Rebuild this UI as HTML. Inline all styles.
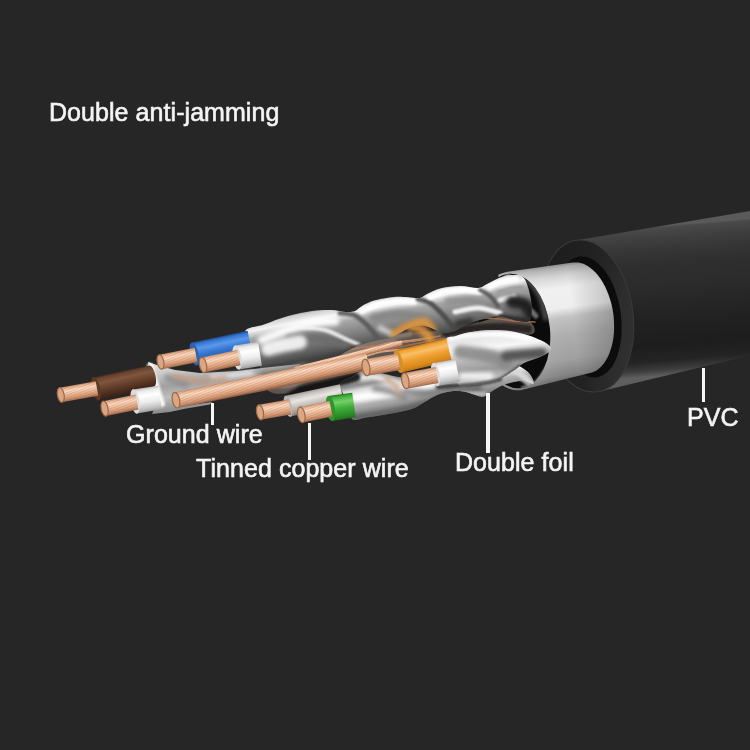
<!DOCTYPE html>
<html><head><meta charset="utf-8">
<style>
html,body{margin:0;padding:0;background:#262626;}
body{width:750px;height:750px;overflow:hidden;position:relative;font-family:"Liberation Sans",Arial,sans-serif;}
svg{position:absolute;left:0;top:0;display:block;filter:blur(0.45px);}
.t{position:absolute;color:#f4f4f4;font-size:25px;line-height:25px;white-space:nowrap;letter-spacing:0.06px;filter:blur(0.45px);-webkit-text-stroke:0.6px #f4f4f4;}
.l{position:absolute;background:#f6f6f6;width:3.4px;filter:blur(0.4px);}
</style></head><body>
<svg id="art" width="750" height="750" viewBox="0 0 750 750"><defs><pattern id="strand" width="2.4" height="2.4" patternUnits="userSpaceOnUse" patternTransform="rotate(-22)"><rect width="2.4" height="0.8" fill="#8a4f30" opacity="0.42"/></pattern><filter id="b1" filterUnits="userSpaceOnUse" x="0" y="150" width="750" height="350"><feGaussianBlur stdDeviation="1"/></filter><filter id="b2" filterUnits="userSpaceOnUse" x="0" y="150" width="750" height="350"><feGaussianBlur stdDeviation="2"/></filter><filter id="b3" filterUnits="userSpaceOnUse" x="0" y="150" width="750" height="350"><feGaussianBlur stdDeviation="3.5"/></filter><linearGradient id="g1" gradientUnits="userSpaceOnUse" x1="664.0" y1="225.5" x2="676.0" y2="374.5"><stop offset="0" stop-color="#5a5a5a"/><stop offset="0.012" stop-color="#4a4a4a"/><stop offset="0.06" stop-color="#424242"/><stop offset="0.15" stop-color="#373737"/><stop offset="0.25" stop-color="#2f2f2f"/><stop offset="0.38" stop-color="#2c2c2c"/><stop offset="0.5" stop-color="#272727"/><stop offset="0.65" stop-color="#212121"/><stop offset="0.8" stop-color="#1d1d1d"/><stop offset="0.9" stop-color="#242424"/><stop offset="0.96" stop-color="#3c3c3c"/><stop offset="1" stop-color="#5e5e5e"/></linearGradient><linearGradient id="g2" gradientUnits="userSpaceOnUse" x1="548.0" y1="300.0" x2="634.0" y2="322.0"><stop offset="0" stop-color="#1d1d1d"/><stop offset="0.5" stop-color="#222"/><stop offset="0.85" stop-color="#2d2d2d"/><stop offset="1" stop-color="#303030"/></linearGradient><linearGradient id="g3" gradientUnits="userSpaceOnUse" x1="545.0" y1="266.0" x2="562.0" y2="384.0"><stop offset="0" stop-color="#868686"/><stop offset="0.03" stop-color="#adadad"/><stop offset="0.1" stop-color="#d4d4d4"/><stop offset="0.2" stop-color="#f0f0f0"/><stop offset="0.37" stop-color="#eeeeee"/><stop offset="0.45" stop-color="#c2c2c2"/><stop offset="0.6" stop-color="#aeaeae"/><stop offset="0.8" stop-color="#a0a0a0"/><stop offset="0.93" stop-color="#828282"/><stop offset="1" stop-color="#5a5a5a"/></linearGradient><linearGradient id="g4" gradientUnits="userSpaceOnUse" x1="515.0" y1="330.0" x2="612.0" y2="318.0"><stop offset="0" stop-color="#fff" stop-opacity="0.2"/><stop offset="0.3" stop-color="#fff" stop-opacity="0.06"/><stop offset="0.5" stop-color="#fff" stop-opacity="0"/><stop offset="0.6" stop-color="#000" stop-opacity="0"/><stop offset="1" stop-color="#000" stop-opacity="0.18"/></linearGradient><clipPath id="opclip"><ellipse cx="514.5" cy="331" rx="35.5" ry="57.5" transform="rotate(-6 514.5 331)"/></clipPath><linearGradient id="g5" gradientUnits="userSpaceOnUse" x1="380.0" y1="296.0" x2="389.0" y2="344.0"><stop offset="0" stop-color="#8e8e8e"/><stop offset="0.08" stop-color="#d0d0d0"/><stop offset="0.22" stop-color="#f4f4f4"/><stop offset="0.38" stop-color="#a6a6a6"/><stop offset="0.6" stop-color="#888"/><stop offset="0.85" stop-color="#606060"/><stop offset="1" stop-color="#444"/></linearGradient><clipPath id="topclip"><path d="M245.0,331.5 C247.0,326.9 256.8,327.1 264.0,324.5 C271.2,321.9 280.0,318.2 288.0,316.0 C296.0,313.8 304.8,312.0 312.0,311.0 C319.2,310.0 325.3,309.8 331.0,310.0 C336.7,310.2 342.0,311.8 346.0,312.0 C350.0,312.2 352.3,312.0 355.0,311.0 C357.7,310.0 358.8,307.8 362.0,306.0 C365.2,304.2 368.7,302.0 374.0,300.5 C379.3,299.0 388.3,297.5 394.0,297.0 C399.7,296.5 403.7,297.1 408.0,297.3 C412.3,297.5 416.8,298.6 420.0,298.0 C423.2,297.4 423.7,295.6 427.0,294.0 C430.3,292.4 434.5,289.8 440.0,288.5 C445.5,287.2 453.7,286.1 460.0,286.0 C466.3,285.9 473.5,288.3 478.0,288.0 C482.5,287.7 483.3,285.8 487.0,284.0 C490.7,282.2 495.8,279.0 500.0,277.5 C504.2,276.0 508.0,274.9 512.0,275.0 C516.0,275.1 520.8,273.8 524.0,278.0 C527.2,282.2 530.0,293.0 531.0,300.0 C532.0,307.0 532.2,316.5 530.0,320.0 C527.8,323.5 523.0,321.6 518.0,321.0 C513.0,320.4 506.3,316.7 500.0,316.5 C493.7,316.3 485.7,318.6 480.0,320.0 C474.3,321.4 470.2,323.2 466.0,325.0 C461.8,326.8 458.8,329.7 455.0,331.0 C451.2,332.3 448.0,333.8 443.0,333.0 C438.0,332.2 430.5,326.8 425.0,326.0 C419.5,325.2 414.2,326.8 410.0,328.0 C405.8,329.2 403.3,331.3 400.0,333.0 C396.7,334.7 394.2,336.7 390.0,338.0 C385.8,339.3 380.0,339.8 375.0,341.0 C370.0,342.2 365.0,343.2 360.0,345.0 C355.0,346.8 349.5,349.8 345.0,352.0 C340.5,354.2 338.0,356.3 333.0,358.0 C328.0,359.7 321.2,360.7 315.0,362.0 C308.8,363.3 302.7,364.9 296.0,366.0 C289.3,367.1 280.7,368.0 275.0,368.5 C269.3,369.0 265.8,371.8 262.0,369.0 C258.2,366.2 254.8,358.2 252.0,352.0 C249.2,345.8 243.0,336.1 245.0,331.5Z"/></clipPath><linearGradient id="g6" gradientUnits="userSpaceOnUse" x1="190.0" y1="362.0" x2="196.0" y2="408.0"><stop offset="0" stop-color="#dedede"/><stop offset="0.2" stop-color="#c6c6c6"/><stop offset="0.45" stop-color="#a2a2a2"/><stop offset="0.7" stop-color="#bebebe"/><stop offset="1" stop-color="#8c8c8c"/></linearGradient><linearGradient id="g7" gradientUnits="userSpaceOnUse" x1="295.2" y1="366.4" x2="296.8" y2="372.6"><stop offset="0" stop-color="#c08c6a"/><stop offset="0.1" stop-color="#e6b18e"/><stop offset="0.3" stop-color="#fbdcc6"/><stop offset="0.5" stop-color="#f0c0a0"/><stop offset="0.75" stop-color="#daa07c"/><stop offset="0.92" stop-color="#b8805e"/><stop offset="1" stop-color="#966246"/></linearGradient><linearGradient id="g8" gradientUnits="userSpaceOnUse" x1="174.4" y1="392.5" x2="177.6" y2="407.9"><stop offset="0" stop-color="#c08c6a"/><stop offset="0.1" stop-color="#e6b18e"/><stop offset="0.3" stop-color="#fbdcc6"/><stop offset="0.5" stop-color="#f0c0a0"/><stop offset="0.75" stop-color="#daa07c"/><stop offset="0.92" stop-color="#b8805e"/><stop offset="1" stop-color="#966246"/></linearGradient><linearGradient id="g9" gradientUnits="userSpaceOnUse" x1="191.9" y1="342.5" x2="196.7" y2="365.5"><stop offset="0" stop-color="#1f4a90"/><stop offset="0.1" stop-color="#3576d2"/><stop offset="0.3" stop-color="#5c98ea"/><stop offset="0.55" stop-color="#3576d2"/><stop offset="0.85" stop-color="#2559ad"/><stop offset="1" stop-color="#1f4a90"/></linearGradient><linearGradient id="g10" gradientUnits="userSpaceOnUse" x1="159.1" y1="354.8" x2="161.9" y2="369.2"><stop offset="0" stop-color="#c08c6a"/><stop offset="0.1" stop-color="#e6b18e"/><stop offset="0.3" stop-color="#fbdcc6"/><stop offset="0.5" stop-color="#f0c0a0"/><stop offset="0.75" stop-color="#daa07c"/><stop offset="0.92" stop-color="#b8805e"/><stop offset="1" stop-color="#966246"/></linearGradient><linearGradient id="g11" gradientUnits="userSpaceOnUse" x1="235.1" y1="345.5" x2="238.9" y2="369.5"><stop offset="0" stop-color="#b9b9b9"/><stop offset="0.12" stop-color="#e9e9e9"/><stop offset="0.32" stop-color="#ffffff"/><stop offset="0.6" stop-color="#ececec"/><stop offset="0.85" stop-color="#c2c2c2"/><stop offset="1" stop-color="#9a9a9a"/></linearGradient><linearGradient id="g12" gradientUnits="userSpaceOnUse" x1="201.4" y1="357.4" x2="204.6" y2="372.6"><stop offset="0" stop-color="#c08c6a"/><stop offset="0.1" stop-color="#e6b18e"/><stop offset="0.3" stop-color="#fbdcc6"/><stop offset="0.5" stop-color="#f0c0a0"/><stop offset="0.75" stop-color="#daa07c"/><stop offset="0.92" stop-color="#b8805e"/><stop offset="1" stop-color="#966246"/></linearGradient><linearGradient id="g13" gradientUnits="userSpaceOnUse" x1="93.4" y1="376.9" x2="98.6" y2="400.3"><stop offset="0" stop-color="#382115"/><stop offset="0.1" stop-color="#66412d"/><stop offset="0.3" stop-color="#80563e"/><stop offset="0.55" stop-color="#66412d"/><stop offset="0.85" stop-color="#47291b"/><stop offset="1" stop-color="#382115"/></linearGradient><linearGradient id="g14" gradientUnits="userSpaceOnUse" x1="59.5" y1="387.7" x2="62.1" y2="402.3"><stop offset="0" stop-color="#c08c6a"/><stop offset="0.1" stop-color="#e6b18e"/><stop offset="0.3" stop-color="#fbdcc6"/><stop offset="0.5" stop-color="#f0c0a0"/><stop offset="0.75" stop-color="#daa07c"/><stop offset="0.92" stop-color="#b8805e"/><stop offset="1" stop-color="#966246"/></linearGradient><linearGradient id="g15" gradientUnits="userSpaceOnUse" x1="133.1" y1="389.4" x2="136.9" y2="413.6"><stop offset="0" stop-color="#b9b9b9"/><stop offset="0.12" stop-color="#e9e9e9"/><stop offset="0.32" stop-color="#ffffff"/><stop offset="0.6" stop-color="#ececec"/><stop offset="0.85" stop-color="#c2c2c2"/><stop offset="1" stop-color="#9a9a9a"/></linearGradient><linearGradient id="g16" gradientUnits="userSpaceOnUse" x1="103.1" y1="401.2" x2="106.1" y2="416.0"><stop offset="0" stop-color="#c08c6a"/><stop offset="0.1" stop-color="#e6b18e"/><stop offset="0.3" stop-color="#fbdcc6"/><stop offset="0.5" stop-color="#f0c0a0"/><stop offset="0.75" stop-color="#daa07c"/><stop offset="0.92" stop-color="#b8805e"/><stop offset="1" stop-color="#966246"/></linearGradient><linearGradient id="g17" gradientUnits="userSpaceOnUse" x1="430.0" y1="372.0" x2="437.0" y2="410.0"><stop offset="0" stop-color="#8a8a8a"/><stop offset="0.12" stop-color="#d9d9d9"/><stop offset="0.3" stop-color="#f4f4f4"/><stop offset="0.5" stop-color="#b4b4b4"/><stop offset="0.78" stop-color="#828282"/><stop offset="1" stop-color="#555"/></linearGradient><clipPath id="lowclip"><path d="M340.0,384.0 C341.0,380.2 348.2,379.2 352.0,377.0 C355.8,374.8 358.3,371.7 363.0,371.0 C367.7,370.3 373.8,372.0 380.0,373.0 C386.2,374.0 391.7,376.2 400.0,377.0 C408.3,377.8 420.0,378.5 430.0,378.0 C440.0,377.5 450.0,375.7 460.0,374.0 C470.0,372.3 481.3,369.7 490.0,368.0 C498.7,366.3 505.7,363.3 512.0,364.0 C518.3,364.7 524.3,368.7 528.0,372.0 C531.7,375.3 534.7,382.5 534.0,384.0 C533.3,385.5 527.3,381.3 524.0,381.0 C520.7,380.7 517.8,381.2 514.0,382.0 C510.2,382.8 504.8,384.3 501.0,386.0 C497.2,387.7 494.0,390.2 491.0,392.0 C488.0,393.8 485.8,396.6 483.0,397.0 C480.2,397.4 477.3,395.4 474.0,394.5 C470.7,393.6 467.0,392.0 463.0,391.5 C459.0,391.0 454.3,390.9 450.0,391.5 C445.7,392.1 441.5,393.1 437.0,395.0 C432.5,396.9 427.5,400.6 423.0,403.0 C418.5,405.4 416.7,407.5 410.0,409.5 C403.3,411.5 390.3,413.7 383.0,415.0 C375.7,416.3 371.2,416.8 366.0,417.5 C360.8,418.2 355.3,421.9 352.0,419.0 C348.7,416.1 348.0,405.8 346.0,400.0 C344.0,394.2 339.0,387.8 340.0,384.0Z"/></clipPath><linearGradient id="g18" gradientUnits="userSpaceOnUse" x1="490.0" y1="330.0" x2="497.0" y2="384.0"><stop offset="0" stop-color="#a0a0a0"/><stop offset="0.1" stop-color="#e4e4e4"/><stop offset="0.32" stop-color="#f6f6f6"/><stop offset="0.5" stop-color="#bdbdbd"/><stop offset="0.7" stop-color="#9a9a9a"/><stop offset="0.88" stop-color="#c0c0c0"/><stop offset="1" stop-color="#777"/></linearGradient><clipPath id="midclip"><path d="M445.0,340.5 C445.7,336.2 452.2,337.3 456.0,336.0 C459.8,334.7 462.5,333.5 468.0,332.5 C473.5,331.5 482.0,330.2 489.0,330.0 C496.0,329.8 503.2,330.0 510.0,331.0 C516.8,332.0 524.0,334.0 530.0,336.0 C536.0,338.0 542.5,340.7 546.0,343.0 C549.5,345.3 552.0,347.7 551.0,350.0 C550.0,352.3 544.5,354.8 540.0,357.0 C535.5,359.2 528.0,361.0 524.0,363.0 C520.0,365.0 520.0,366.3 516.0,369.0 C512.0,371.7 505.0,376.7 500.0,379.0 C495.0,381.3 490.7,382.0 486.0,383.0 C481.3,384.0 476.5,384.7 472.0,385.0 C467.5,385.3 462.3,388.8 459.0,385.0 C455.7,381.2 454.3,369.4 452.0,362.0 C449.7,354.6 444.3,344.8 445.0,340.5Z"/></clipPath><linearGradient id="g19" gradientUnits="userSpaceOnUse" x1="395.8" y1="350.2" x2="401.2" y2="372.8"><stop offset="0" stop-color="#b87414"/><stop offset="0.1" stop-color="#f0a030"/><stop offset="0.3" stop-color="#f8c06a"/><stop offset="0.55" stop-color="#f0a030"/><stop offset="0.85" stop-color="#d98a1c"/><stop offset="1" stop-color="#b87414"/></linearGradient><linearGradient id="g20" gradientUnits="userSpaceOnUse" x1="364.6" y1="359.2" x2="367.4" y2="375.8"><stop offset="0" stop-color="#c08c6a"/><stop offset="0.1" stop-color="#e6b18e"/><stop offset="0.3" stop-color="#fbdcc6"/><stop offset="0.5" stop-color="#f0c0a0"/><stop offset="0.75" stop-color="#daa07c"/><stop offset="0.92" stop-color="#b8805e"/><stop offset="1" stop-color="#966246"/></linearGradient><linearGradient id="g21" gradientUnits="userSpaceOnUse" x1="433.4" y1="362.9" x2="437.6" y2="386.1"><stop offset="0" stop-color="#b9b9b9"/><stop offset="0.12" stop-color="#e9e9e9"/><stop offset="0.32" stop-color="#ffffff"/><stop offset="0.6" stop-color="#ececec"/><stop offset="0.85" stop-color="#c2c2c2"/><stop offset="1" stop-color="#9a9a9a"/></linearGradient><linearGradient id="g22" gradientUnits="userSpaceOnUse" x1="403.9" y1="372.9" x2="406.7" y2="388.7"><stop offset="0" stop-color="#c08c6a"/><stop offset="0.1" stop-color="#e6b18e"/><stop offset="0.3" stop-color="#fbdcc6"/><stop offset="0.5" stop-color="#f0c0a0"/><stop offset="0.75" stop-color="#daa07c"/><stop offset="0.92" stop-color="#b8805e"/><stop offset="1" stop-color="#966246"/></linearGradient><linearGradient id="g23" gradientUnits="userSpaceOnUse" x1="285.6" y1="395.8" x2="290.4" y2="416.8"><stop offset="0" stop-color="#9c9894"/><stop offset="0.15" stop-color="#c9c5c1"/><stop offset="0.35" stop-color="#e8e6e3"/><stop offset="0.6" stop-color="#c4c0bc"/><stop offset="0.85" stop-color="#9e9a96"/><stop offset="1" stop-color="#7c7875"/></linearGradient><linearGradient id="g24" gradientUnits="userSpaceOnUse" x1="258.7" y1="404.8" x2="261.3" y2="419.8"><stop offset="0" stop-color="#c08c6a"/><stop offset="0.1" stop-color="#e6b18e"/><stop offset="0.3" stop-color="#fbdcc6"/><stop offset="0.5" stop-color="#f0c0a0"/><stop offset="0.75" stop-color="#daa07c"/><stop offset="0.92" stop-color="#b8805e"/><stop offset="1" stop-color="#966246"/></linearGradient><linearGradient id="g25" gradientUnits="userSpaceOnUse" x1="328.6" y1="396.0" x2="332.4" y2="421.0"><stop offset="0" stop-color="#1f6e1e"/><stop offset="0.1" stop-color="#3fae3a"/><stop offset="0.3" stop-color="#74d06c"/><stop offset="0.55" stop-color="#3fae3a"/><stop offset="0.85" stop-color="#2a8a28"/><stop offset="1" stop-color="#1f6e1e"/></linearGradient><linearGradient id="g26" gradientUnits="userSpaceOnUse" x1="299.7" y1="407.0" x2="302.9" y2="422.6"><stop offset="0" stop-color="#c08c6a"/><stop offset="0.1" stop-color="#e6b18e"/><stop offset="0.3" stop-color="#fbdcc6"/><stop offset="0.5" stop-color="#f0c0a0"/><stop offset="0.75" stop-color="#daa07c"/><stop offset="0.92" stop-color="#b8805e"/><stop offset="1" stop-color="#966246"/></linearGradient></defs><rect width="750" height="750" fill="#262626"/><polygon points="540.2,302.6 540.6,296.1 541.2,289.8 542.2,283.7 543.6,277.8 545.3,272.2 547.3,267.0 549.6,262.1 552.2,257.6 555.0,253.6 558.1,250.0 561.4,247.0 564.9,244.5 568.6,242.5 572.4,241.1 576.4,240.2 750.0,211.0 750.0,355.5 601.6,390.9 597.6,391.8 593.6,392.0 589.6,391.7 585.5,390.8 581.4,389.4 577.4,387.4 573.4,384.8 569.6,381.7 565.9,378.1 562.3,374.1 558.9,369.6 555.8,364.7 552.9,359.4 550.2,353.8 547.8,347.9 545.8,341.8 544.0,335.5 542.5,329.0 541.4,322.4 540.7,315.8 540.3,309.1" fill="url(#g1)" />
<ellipse cx="587.0" cy="316.0" rx="46.0" ry="76.5" transform="rotate(-8.0 587.0 316.0)" fill="url(#g2)" stroke="#3a3a3a" stroke-width="1"/>
<ellipse cx="588.0" cy="317.0" rx="33.0" ry="61.0" transform="rotate(-8.0 588.0 317.0)" fill="#0c0c0c" />
<polygon points="498.0,381.7 498.5,274.8 501.5,273.4 504.6,272.4 507.8,271.8 572.7,262.5 575.6,262.4 578.5,262.6 581.4,263.2 584.4,264.3 587.2,265.8 590.1,267.7 592.9,269.9 595.5,272.6 598.1,275.5 600.5,278.8 602.8,282.4 604.9,286.3 606.8,290.4 608.5,294.7 610.0,299.2 611.3,303.8 612.4,308.6 613.2,313.4 613.7,318.3 614.0,323.1 614.1,327.9 613.9,332.7 613.4,337.3 612.7,341.8 611.7,346.0 610.5,350.1 609.1,354.0 607.5,357.5 605.6,360.8 603.6,363.7 601.4,366.3 599.0,368.5 596.5,370.4 593.8,371.8 591.1,372.8 523.4,389.6 520.2,390.2 517.0,390.3 513.7,389.9 510.5,389.2 507.3,387.9 504.1,386.3 501.0,384.2" fill="url(#g3)" />
<polygon points="498.0,381.7 498.5,274.8 501.5,273.4 504.6,272.4 507.8,271.8 572.7,262.5 575.6,262.4 578.5,262.6 581.4,263.2 584.4,264.3 587.2,265.8 590.1,267.7 592.9,269.9 595.5,272.6 598.1,275.5 600.5,278.8 602.8,282.4 604.9,286.3 606.8,290.4 608.5,294.7 610.0,299.2 611.3,303.8 612.4,308.6 613.2,313.4 613.7,318.3 614.0,323.1 614.1,327.9 613.9,332.7 613.4,337.3 612.7,341.8 611.7,346.0 610.5,350.1 609.1,354.0 607.5,357.5 605.6,360.8 603.6,363.7 601.4,366.3 599.0,368.5 596.5,370.4 593.8,371.8 591.1,372.8 523.4,389.6 520.2,390.2 517.0,390.3 513.7,389.9 510.5,389.2 507.3,387.9 504.1,386.3 501.0,384.2" fill="url(#g4)" />
<ellipse cx="514.5" cy="331.0" rx="35.5" ry="57.5" transform="rotate(-6.0 514.5 331.0)" fill="#0b0b0b" />
<g clip-path="url(#opclip)">
<path d="M528.0,279.0 C530.0,281.8 537.0,289.5 540.0,296.0 C543.0,302.5 545.0,314.3 546.0,318.0" fill="none" stroke="#6a6a6a" stroke-width="5" stroke-linecap="round" filter="url(#b2)" opacity="0.8"/>
<path d="M508.0,279.0 C509.3,280.2 513.7,283.0 516.0,286.0 C518.3,289.0 521.0,295.2 522.0,297.0" fill="none" stroke="#e8e8e8" stroke-width="9" stroke-linecap="round" filter="url(#b1)" opacity="0.95"/>
<path d="M512.0,300.0 C514.3,301.0 522.0,303.3 526.0,306.0 C530.0,308.7 534.3,314.3 536.0,316.0" fill="none" stroke="#8a8a8a" stroke-width="5" stroke-linecap="round" filter="url(#b1)" opacity="0.8"/>
<path d="M508.0,368.0 C509.7,369.2 514.3,372.3 518.0,375.0 C521.7,377.7 528.0,382.5 530.0,384.0" fill="none" stroke="#c4c4c4" stroke-width="6" stroke-linecap="round" filter="url(#b1)" opacity="0.9"/>
<path d="M522.0,388.0 C524.3,387.0 532.0,385.3 536.0,382.0 C540.0,378.7 544.3,370.3 546.0,368.0" fill="none" stroke="#9a9a9a" stroke-width="2.5" stroke-linecap="round" filter="url(#b1)" opacity="0.9"/>
</g>
<path d="M300.0,366.0 C311.3,363.3 320.0,359.5 330.0,356.0 C340.0,352.5 348.3,348.7 360.0,345.0 C371.7,341.3 385.8,336.5 400.0,334.0 C414.2,331.5 431.7,332.0 445.0,330.0 C458.3,328.0 470.0,324.3 480.0,322.0 C490.0,319.7 496.7,316.0 505.0,316.0 C513.3,316.0 525.5,319.0 530.0,322.0 C534.5,325.0 537.0,332.0 532.0,334.0 C527.0,336.0 513.7,332.2 500.0,334.0 C486.3,335.8 466.7,340.3 450.0,345.0 C433.3,349.7 413.3,357.5 400.0,362.0 C386.7,366.5 380.0,368.3 370.0,372.0 C360.0,375.7 351.7,380.7 340.0,384.0 C328.3,387.3 311.7,390.7 300.0,392.0 C288.3,393.3 276.3,395.3 270.0,392.0 C263.7,388.7 257.0,376.3 262.0,372.0 C267.0,367.7 288.7,368.7 300.0,366.0Z" fill="#5e544e" />
<path d="M262.0,380.0 C265.8,380.3 278.7,382.3 285.0,382.0 C291.3,381.7 297.5,378.7 300.0,378.0" fill="none" stroke="#bdbdbd" stroke-width="9" stroke-linecap="round" filter="url(#b2)" opacity="0.9"/>
<path d="M330.0,366.0 C335.0,363.7 349.2,356.0 360.0,352.0 C370.8,348.0 389.2,343.7 395.0,342.0" fill="none" stroke="#9a9088" stroke-width="6" stroke-linecap="round" filter="url(#b2)" opacity="0.9"/>
<path d="M300.0,372.0 C306.7,370.0 326.7,364.3 340.0,360.0 C353.3,355.7 365.0,349.7 380.0,346.0 C395.0,342.3 421.7,339.3 430.0,338.0" fill="none" stroke="#c98f6a" stroke-width="2.2" stroke-linecap="round" opacity="0.9"/>
<path d="M320.0,372.0 C326.7,369.3 346.7,360.2 360.0,356.0 C373.3,351.8 385.8,350.0 400.0,347.0 C414.2,344.0 437.5,339.5 445.0,338.0" fill="none" stroke="#a86f4e" stroke-width="1.6" stroke-linecap="round" opacity="0.9"/>
<path d="M345.0,352.0 C350.8,350.0 369.2,343.0 380.0,340.0 C390.8,337.0 405.0,335.0 410.0,334.0" fill="none" stroke="#8a7a70" stroke-width="5" stroke-linecap="round" filter="url(#b1)" opacity="0.9"/>
<path d="M310.0,368.0 C315.8,366.2 332.5,361.0 345.0,357.0 C357.5,353.0 372.5,346.8 385.0,344.0 C397.5,341.2 414.2,340.7 420.0,340.0" fill="none" stroke="#d9a07c" stroke-width="1.6" stroke-linecap="round" opacity="0.9"/>
<path d="M335.0,352.0 C340.0,351.2 354.2,348.5 365.0,347.0 C375.8,345.5 387.5,344.8 400.0,343.0 C412.5,341.2 433.3,337.2 440.0,336.0" fill="none" stroke="#b87c58" stroke-width="1.4" stroke-linecap="round" opacity="0.9"/>
<path d="M350.0,362.0 C355.0,360.3 370.0,354.2 380.0,352.0 C390.0,349.8 405.0,349.5 410.0,349.0" fill="none" stroke="#e2b090" stroke-width="2" stroke-linecap="round" opacity="0.85"/>
<path d="M410.0,326.0 C412.0,326.7 418.7,328.0 422.0,330.0 C425.3,332.0 428.7,336.7 430.0,338.0" fill="none" stroke="#e89a3c" stroke-width="9" stroke-linecap="round" filter="url(#b2)" opacity="0.85"/>
<path d="M455.0,322.0 C460.0,321.3 475.0,318.2 485.0,318.0 C495.0,317.8 506.7,320.3 515.0,321.0 C523.3,321.7 531.7,321.8 535.0,322.0" fill="none" stroke="#a8704a" stroke-width="1.6" stroke-linecap="round" opacity="0.9"/>
<path d="M446.0,333.0 C450.0,332.3 461.0,330.0 470.0,329.0 C479.0,328.0 490.3,327.0 500.0,327.0 C509.7,327.0 523.3,328.7 528.0,329.0" fill="none" stroke="#262220" stroke-width="8" stroke-linecap="round" filter="url(#b1)" opacity="0.92"/>
<path d="M245.0,331.5 C247.0,326.9 256.8,327.1 264.0,324.5 C271.2,321.9 280.0,318.2 288.0,316.0 C296.0,313.8 304.8,312.0 312.0,311.0 C319.2,310.0 325.3,309.8 331.0,310.0 C336.7,310.2 342.0,311.8 346.0,312.0 C350.0,312.2 352.3,312.0 355.0,311.0 C357.7,310.0 358.8,307.8 362.0,306.0 C365.2,304.2 368.7,302.0 374.0,300.5 C379.3,299.0 388.3,297.5 394.0,297.0 C399.7,296.5 403.7,297.1 408.0,297.3 C412.3,297.5 416.8,298.6 420.0,298.0 C423.2,297.4 423.7,295.6 427.0,294.0 C430.3,292.4 434.5,289.8 440.0,288.5 C445.5,287.2 453.7,286.1 460.0,286.0 C466.3,285.9 473.5,288.3 478.0,288.0 C482.5,287.7 483.3,285.8 487.0,284.0 C490.7,282.2 495.8,279.0 500.0,277.5 C504.2,276.0 508.0,274.9 512.0,275.0 C516.0,275.1 520.8,273.8 524.0,278.0 C527.2,282.2 530.0,293.0 531.0,300.0 C532.0,307.0 532.2,316.5 530.0,320.0 C527.8,323.5 523.0,321.6 518.0,321.0 C513.0,320.4 506.3,316.7 500.0,316.5 C493.7,316.3 485.7,318.6 480.0,320.0 C474.3,321.4 470.2,323.2 466.0,325.0 C461.8,326.8 458.8,329.7 455.0,331.0 C451.2,332.3 448.0,333.8 443.0,333.0 C438.0,332.2 430.5,326.8 425.0,326.0 C419.5,325.2 414.2,326.8 410.0,328.0 C405.8,329.2 403.3,331.3 400.0,333.0 C396.7,334.7 394.2,336.7 390.0,338.0 C385.8,339.3 380.0,339.8 375.0,341.0 C370.0,342.2 365.0,343.2 360.0,345.0 C355.0,346.8 349.5,349.8 345.0,352.0 C340.5,354.2 338.0,356.3 333.0,358.0 C328.0,359.7 321.2,360.7 315.0,362.0 C308.8,363.3 302.7,364.9 296.0,366.0 C289.3,367.1 280.7,368.0 275.0,368.5 C269.3,369.0 265.8,371.8 262.0,369.0 C258.2,366.2 254.8,358.2 252.0,352.0 C249.2,345.8 243.0,336.1 245.0,331.5Z" fill="url(#g5)" />
<g clip-path="url(#topclip)">
<path d="M262.0,340.0 C265.8,338.5 276.7,333.8 285.0,331.0 C293.3,328.2 303.7,324.7 312.0,323.0 C320.3,321.3 331.2,321.3 335.0,321.0" fill="none" stroke="#ffffff" stroke-width="9" stroke-linecap="round" filter="url(#b2)" opacity="0.92"/>
<path d="M290.0,340.0 C294.7,339.7 308.8,337.5 318.0,338.0 C327.2,338.5 340.5,342.2 345.0,343.0" fill="none" stroke="#6c6c6c" stroke-width="10" stroke-linecap="round" filter="url(#b2)" opacity="0.9"/>
<path d="M300.0,327.0 C304.2,327.5 317.0,327.8 325.0,330.0 C333.0,332.2 341.8,337.3 348.0,340.0 C354.2,342.7 359.7,345.0 362.0,346.0" fill="none" stroke="#f4f4f4" stroke-width="4" stroke-linecap="round" filter="url(#b1)" opacity="0.9"/>
<path d="M268.0,349.0 C270.7,348.3 278.7,346.2 284.0,345.0 C289.3,343.8 297.3,342.5 300.0,342.0" fill="none" stroke="#fafafa" stroke-width="14" stroke-linecap="round" filter="url(#b2)" opacity="0.9"/>
<path d="M262.0,369.0 C268.3,368.2 287.8,366.5 300.0,364.5 C312.2,362.5 324.7,360.2 335.0,357.0 C345.3,353.8 357.5,347.0 362.0,345.0" fill="none" stroke="#3e3e3e" stroke-width="4.5" stroke-linecap="round" filter="url(#b1)" opacity="0.9"/>
<path d="M340.0,313.0 C342.3,313.3 349.7,313.2 354.0,315.0 C358.3,316.8 362.0,320.2 366.0,324.0 C370.0,327.8 376.0,335.7 378.0,338.0" fill="none" stroke="#585858" stroke-width="5" stroke-linecap="round" filter="url(#b1)" opacity="0.9"/>
<path d="M362.0,311.0 C364.7,309.8 372.0,305.7 378.0,304.0 C384.0,302.3 392.0,301.3 398.0,301.0 C404.0,300.7 411.3,301.8 414.0,302.0" fill="none" stroke="#ffffff" stroke-width="6" stroke-linecap="round" filter="url(#b1)" opacity="0.95"/>
<path d="M374.0,318.0 C378.0,317.3 390.0,314.0 398.0,314.0 C406.0,314.0 418.0,317.3 422.0,318.0" fill="none" stroke="#858585" stroke-width="9" stroke-linecap="round" filter="url(#b2)" opacity="0.9"/>
<path d="M380.0,328.0 C382.0,329.0 390.0,333.0 392.0,334.0" fill="none" stroke="#f0f0f0" stroke-width="5" stroke-linecap="round" filter="url(#b2)" opacity="0.8"/>
<path d="M395.0,334.0 C397.5,332.7 405.2,328.0 410.0,326.0 C414.8,324.0 420.3,321.3 424.0,322.0 C427.7,322.7 430.7,328.7 432.0,330.0" fill="none" stroke="#e0953a" stroke-width="9" stroke-linecap="round" filter="url(#b2)" opacity="0.9"/>
<path d="M418.0,299.0 C420.0,299.7 425.7,300.2 430.0,303.0 C434.3,305.8 439.7,311.2 444.0,316.0 C448.3,320.8 454.0,329.3 456.0,332.0" fill="none" stroke="#4a4a4a" stroke-width="5" stroke-linecap="round" filter="url(#b1)" opacity="0.9"/>
<path d="M430.0,297.0 C432.7,296.0 440.0,292.2 446.0,291.0 C452.0,289.8 460.3,289.8 466.0,290.0 C471.7,290.2 477.7,291.7 480.0,292.0" fill="none" stroke="#ffffff" stroke-width="6" stroke-linecap="round" filter="url(#b1)" opacity="0.95"/>
<path d="M448.0,301.0 C451.0,300.8 460.3,299.5 466.0,300.0 C471.7,300.5 479.3,303.3 482.0,304.0" fill="none" stroke="#8e8e8e" stroke-width="7" stroke-linecap="round" filter="url(#b2)" opacity="0.9"/>
<path d="M455.0,312.0 C458.8,311.3 470.5,307.8 478.0,308.0 C485.5,308.2 496.3,312.2 500.0,313.0" fill="none" stroke="#f6f6f6" stroke-width="5" stroke-linecap="round" filter="url(#b1)" opacity="0.95"/>
<path d="M458.0,324.0 C460.0,323.5 468.0,321.5 470.0,321.0" fill="none" stroke="#333" stroke-width="7" stroke-linecap="round" filter="url(#b2)" opacity="0.9"/>
<path d="M480.0,290.0 C481.7,291.0 487.0,293.3 490.0,296.0 C493.0,298.7 496.7,304.3 498.0,306.0" fill="none" stroke="#555" stroke-width="4" stroke-linecap="round" filter="url(#b1)" opacity="0.9"/>
<path d="M490.0,287.0 C492.0,286.0 497.7,282.3 502.0,281.0 C506.3,279.7 513.7,279.3 516.0,279.0" fill="none" stroke="#ffffff" stroke-width="6" stroke-linecap="round" filter="url(#b1)" opacity="0.95"/>
<path d="M498.0,292.0 C500.3,291.3 508.0,288.8 512.0,288.0 C516.0,287.2 520.3,287.2 522.0,287.0" fill="none" stroke="#9a9a9a" stroke-width="3" stroke-linecap="round" filter="url(#b1)" opacity="0.9"/>
<path d="M500.0,300.0 C502.3,299.3 511.7,296.7 514.0,296.0" fill="none" stroke="#f0f0f0" stroke-width="5" stroke-linecap="round" filter="url(#b1)" opacity="0.9"/>
<path d="M512.0,302.0 C514.0,302.3 520.7,302.0 524.0,304.0 C527.3,306.0 530.7,312.3 532.0,314.0" fill="none" stroke="#1c1c1c" stroke-width="12" stroke-linecap="round" filter="url(#b2)" opacity="0.95"/>
<path d="M500.0,316.0 C502.7,316.5 511.0,318.2 516.0,319.0 C521.0,319.8 527.7,320.7 530.0,321.0" fill="none" stroke="#2a2a2a" stroke-width="4" stroke-linecap="round" filter="url(#b1)" opacity="0.9"/>
</g>
<polygon points="148.0,362.0 160.0,366.0 175.0,370.0 200.0,373.0 237.0,371.0 262.0,368.0 300.0,364.0 304.0,372.0 262.0,380.0 237.0,383.0 205.0,388.0 176.0,393.0 176.0,407.0 212.0,402.0 210.0,404.5 185.0,408.8 170.0,412.0 152.0,414.0 158.0,400.0 153.0,385.0" fill="url(#g6)" />
<path d="M150.0,366.0 C151.0,369.2 154.0,378.7 156.0,385.0 C158.0,391.3 161.0,400.8 162.0,404.0" fill="none" stroke="#ffffff" stroke-width="6" stroke-linecap="round" filter="url(#b1)" opacity="0.9"/>
<path d="M212.0,377.0 C215.3,376.8 225.3,376.2 232.0,375.5 C238.7,374.8 248.7,373.4 252.0,373.0" fill="none" stroke="#ffffff" stroke-width="4" stroke-linecap="round" filter="url(#b2)" opacity="0.85"/>
<path d="M168.0,378.0 C170.8,379.0 182.2,383.0 185.0,384.0" fill="none" stroke="#8e8e8e" stroke-width="8" stroke-linecap="round" filter="url(#b2)" opacity="0.8"/>
<path d="M175.0,376.0 C179.2,376.8 191.7,380.7 200.0,381.0 C208.3,381.3 220.8,378.5 225.0,378.0" fill="none" stroke="#c49a82" stroke-width="6" stroke-linecap="round" filter="url(#b2)" opacity="0.7"/>
<path d="M264.0,375.0 C267.5,374.5 278.3,373.3 285.0,372.0 C291.7,370.7 300.8,367.8 304.0,367.0" fill="none" stroke="#7e766f" stroke-width="8" stroke-linecap="round" filter="url(#b2)" opacity="0.9"/>
<path d="M286,394 L300,386 L330,379 L362,371 L366,377 L345,384 L318,392 L300,396 Z" fill="#121212" filter="url(#b1)"/>
<path d="M295.2,366.4 L401.4,340.5 L402.6,345.5 L296.8,372.6 A1.4,3.2 -14.0 0 1 295.2,366.4 Z" fill="url(#g7)" />
<path d="M295.2,366.4 L401.4,340.5 L402.6,345.5 L296.8,372.6 A1.4,3.2 -14.0 0 1 295.2,366.4 Z" fill="url(#strand)" opacity="0.45" transform=""/>
<path d="M174.4,392.5 L366.3,353.4 L369.7,369.8 L177.6,407.9 A3.6,7.9 -11.4 0 1 174.4,392.5 Z" fill="url(#g8)" />
<path d="M174.4,392.5 L366.3,353.4 L369.7,369.8 L177.6,407.9 A3.6,7.9 -11.4 0 1 174.4,392.5 Z" fill="url(#strand)" opacity="0.45" transform=""/>
<ellipse cx="176.0" cy="400.2" rx="3.6" ry="7.9" transform="rotate(-11.4 176.0 400.2)" fill="#dba783" stroke="#9c6748" stroke-width="1.2"/>
<path d="M191.9,342.5 L247.6,330.7 L252.4,353.7 L196.7,365.5 A4.1,11.8 -12.0 0 1 191.9,342.5 Z" fill="url(#g9)" />
<ellipse cx="194.3" cy="354.0" rx="4.1" ry="11.8" transform="rotate(-12.0 194.3 354.0)" fill="#2d63ad" />
<path d="M159.1,354.8 L194.6,347.8 L197.4,362.2 L161.9,369.2 A3.3,7.3 -11.2 0 1 159.1,354.8 Z" fill="url(#g10)" />
<path d="M159.1,354.8 L194.6,347.8 L197.4,362.2 L161.9,369.2 A3.3,7.3 -11.2 0 1 159.1,354.8 Z" fill="url(#strand)" opacity="0.45" transform=""/>
<ellipse cx="160.5" cy="362.0" rx="3.3" ry="7.3" transform="rotate(-11.2 160.5 362.0)" fill="#dba783" stroke="#9c6748" stroke-width="1.2"/>
<path d="M235.1,345.5 L258.1,341.8 L261.9,365.8 L238.9,369.5 A4.3,12.2 -9.1 0 1 235.1,345.5 Z" fill="url(#g11)" />
<ellipse cx="237.0" cy="357.5" rx="4.3" ry="12.2" transform="rotate(-9.1 237.0 357.5)" fill="#dcdcdc" />
<path d="M201.4,357.4 L237.4,350.0 L240.6,365.2 L204.6,372.6 A3.5,7.8 -11.6 0 1 201.4,357.4 Z" fill="url(#g12)" />
<path d="M201.4,357.4 L237.4,350.0 L240.6,365.2 L204.6,372.6 A3.5,7.8 -11.6 0 1 201.4,357.4 Z" fill="url(#strand)" opacity="0.45" transform=""/>
<ellipse cx="203.0" cy="365.0" rx="3.5" ry="7.8" transform="rotate(-11.6 203.0 365.0)" fill="#dba783" stroke="#9c6748" stroke-width="1.2"/>
<path d="M93.4,376.9 L149.6,365.5 A3.8,10.8 -12.7 0 1 154.4,386.5 L98.6,400.3 A4.2,12.0 -12.7 0 1 93.4,376.9 Z" fill="url(#g13)" />
<ellipse cx="96.0" cy="388.6" rx="4.2" ry="12.0" transform="rotate(-12.7 96.0 388.6)" fill="#5a3826" />
<path d="M59.5,387.7 L95.7,381.2 L98.3,395.8 L62.1,402.3 A3.3,7.4 -10.2 0 1 59.5,387.7 Z" fill="url(#g14)" />
<path d="M59.5,387.7 L95.7,381.2 L98.3,395.8 L62.1,402.3 A3.3,7.4 -10.2 0 1 59.5,387.7 Z" fill="url(#strand)" opacity="0.45" transform=""/>
<ellipse cx="60.8" cy="395.0" rx="3.3" ry="7.4" transform="rotate(-10.2 60.8 395.0)" fill="#dba783" stroke="#9c6748" stroke-width="1.2"/>
<path d="M133.1,389.4 L158.1,385.7 L161.9,409.3 L136.9,413.6 A4.3,12.3 -9.1 0 1 133.1,389.4 Z" fill="url(#g15)" />
<ellipse cx="135.0" cy="401.5" rx="4.3" ry="12.3" transform="rotate(-9.1 135.0 401.5)" fill="#dcdcdc" />
<path d="M103.1,401.2 L135.5,394.6 L138.5,409.4 L106.1,416.0 A3.4,7.6 -11.5 0 1 103.1,401.2 Z" fill="url(#g16)" />
<path d="M103.1,401.2 L135.5,394.6 L138.5,409.4 L106.1,416.0 A3.4,7.6 -11.5 0 1 103.1,401.2 Z" fill="url(#strand)" opacity="0.45" transform=""/>
<ellipse cx="104.6" cy="408.6" rx="3.4" ry="7.6" transform="rotate(-11.5 104.6 408.6)" fill="#dba783" stroke="#9c6748" stroke-width="1.2"/>
<path d="M340.0,384.0 C341.0,380.2 348.2,379.2 352.0,377.0 C355.8,374.8 358.3,371.7 363.0,371.0 C367.7,370.3 373.8,372.0 380.0,373.0 C386.2,374.0 391.7,376.2 400.0,377.0 C408.3,377.8 420.0,378.5 430.0,378.0 C440.0,377.5 450.0,375.7 460.0,374.0 C470.0,372.3 481.3,369.7 490.0,368.0 C498.7,366.3 505.7,363.3 512.0,364.0 C518.3,364.7 524.3,368.7 528.0,372.0 C531.7,375.3 534.7,382.5 534.0,384.0 C533.3,385.5 527.3,381.3 524.0,381.0 C520.7,380.7 517.8,381.2 514.0,382.0 C510.2,382.8 504.8,384.3 501.0,386.0 C497.2,387.7 494.0,390.2 491.0,392.0 C488.0,393.8 485.8,396.6 483.0,397.0 C480.2,397.4 477.3,395.4 474.0,394.5 C470.7,393.6 467.0,392.0 463.0,391.5 C459.0,391.0 454.3,390.9 450.0,391.5 C445.7,392.1 441.5,393.1 437.0,395.0 C432.5,396.9 427.5,400.6 423.0,403.0 C418.5,405.4 416.7,407.5 410.0,409.5 C403.3,411.5 390.3,413.7 383.0,415.0 C375.7,416.3 371.2,416.8 366.0,417.5 C360.8,418.2 355.3,421.9 352.0,419.0 C348.7,416.1 348.0,405.8 346.0,400.0 C344.0,394.2 339.0,387.8 340.0,384.0Z" fill="url(#g17)" />
<g clip-path="url(#lowclip)">
<path d="M356.0,398.0 C363.3,397.0 387.3,394.0 400.0,392.0 C412.7,390.0 426.7,387.0 432.0,386.0" fill="none" stroke="#ffffff" stroke-width="7" stroke-linecap="round" filter="url(#b2)" opacity="0.95"/>
<path d="M362.0,378.0 C364.3,377.8 370.5,376.3 376.0,377.0 C381.5,377.7 391.8,381.2 395.0,382.0" fill="none" stroke="#ffffff" stroke-width="6" stroke-linecap="round" filter="url(#b2)" opacity="0.9"/>
<path d="M336.0,382.0 C337.7,381.7 342.7,380.8 346.0,380.0 C349.3,379.2 354.3,377.5 356.0,377.0" fill="none" stroke="#1c1c1c" stroke-width="8" stroke-linecap="round" filter="url(#b1)" opacity="0.95"/>
<path d="M375.0,388.0 C377.8,388.7 387.2,390.3 392.0,392.0 C396.8,393.7 402.0,397.0 404.0,398.0" fill="none" stroke="#8a8a8a" stroke-width="7" stroke-linecap="round" filter="url(#b2)" opacity="0.85"/>
<path d="M386.0,378.0 C387.7,379.3 393.7,383.3 396.0,386.0 C398.3,388.7 399.3,392.7 400.0,394.0" fill="none" stroke="#c89878" stroke-width="5" stroke-linecap="round" filter="url(#b2)" opacity="0.8"/>
<path d="M355.0,417.0 C361.7,416.0 383.3,413.3 395.0,411.0 C406.7,408.7 415.0,406.2 425.0,403.0 C435.0,399.8 445.8,394.3 455.0,392.0 C464.2,389.7 475.8,389.5 480.0,389.0" fill="none" stroke="#5c5c5c" stroke-width="5" stroke-linecap="round" filter="url(#b2)" opacity="0.9"/>
<path d="M405.0,392.0 C409.2,392.2 422.2,393.7 430.0,393.0 C437.8,392.3 448.3,388.8 452.0,388.0" fill="none" stroke="#777" stroke-width="7" stroke-linecap="round" filter="url(#b2)" opacity="0.8"/>
<path d="M508.0,368.0 C510.0,369.0 516.2,371.5 520.0,374.0 C523.8,376.5 529.2,381.5 531.0,383.0" fill="none" stroke="#d8d8d8" stroke-width="6" stroke-linecap="round" filter="url(#b1)" opacity="0.95"/>
<path d="M438.0,387.0 C441.3,386.8 451.0,386.1 458.0,385.5 C465.0,384.9 473.0,384.6 480.0,383.5 C487.0,382.4 496.7,379.8 500.0,379.0" fill="none" stroke="#3a3a3a" stroke-width="4.5" stroke-linecap="round" filter="url(#b1)" opacity="0.92"/>
<path d="M445.0,396.0 C448.3,395.7 458.5,394.3 465.0,394.0 C471.5,393.7 480.8,394.0 484.0,394.0" fill="none" stroke="#b8b8b8" stroke-width="5" stroke-linecap="round" filter="url(#b1)" opacity="0.9"/>
</g>
<path d="M445.0,340.5 C445.7,336.2 452.2,337.3 456.0,336.0 C459.8,334.7 462.5,333.5 468.0,332.5 C473.5,331.5 482.0,330.2 489.0,330.0 C496.0,329.8 503.2,330.0 510.0,331.0 C516.8,332.0 524.0,334.0 530.0,336.0 C536.0,338.0 542.5,340.7 546.0,343.0 C549.5,345.3 552.0,347.7 551.0,350.0 C550.0,352.3 544.5,354.8 540.0,357.0 C535.5,359.2 528.0,361.0 524.0,363.0 C520.0,365.0 520.0,366.3 516.0,369.0 C512.0,371.7 505.0,376.7 500.0,379.0 C495.0,381.3 490.7,382.0 486.0,383.0 C481.3,384.0 476.5,384.7 472.0,385.0 C467.5,385.3 462.3,388.8 459.0,385.0 C455.7,381.2 454.3,369.4 452.0,362.0 C449.7,354.6 444.3,344.8 445.0,340.5Z" fill="url(#g18)" />
<g clip-path="url(#midclip)">
<path d="M460.0,352.0 C463.0,352.3 472.0,353.0 478.0,354.0 C484.0,355.0 491.3,356.3 496.0,358.0 C500.7,359.7 504.3,363.0 506.0,364.0" fill="none" stroke="#8a8a8a" stroke-width="13" stroke-linecap="round" filter="url(#b2)" opacity="0.9"/>
<path d="M506.0,356.0 C509.0,355.8 518.0,355.0 524.0,354.5 C530.0,354.0 539.0,353.2 542.0,353.0" fill="none" stroke="#4c4c4c" stroke-width="10" stroke-linecap="round" filter="url(#b2)" opacity="0.9"/>
<path d="M462.0,376.0 C464.3,376.0 471.3,376.0 476.0,376.0 C480.7,376.0 487.7,376.0 490.0,376.0" fill="none" stroke="#f6f6f6" stroke-width="7" stroke-linecap="round" filter="url(#b2)" opacity="0.95"/>
<path d="M459.0,386.0 C462.5,385.7 473.2,385.2 480.0,384.0 C486.8,382.8 493.3,382.0 500.0,379.0 C506.7,376.0 516.7,368.2 520.0,366.0" fill="none" stroke="#4a4a4a" stroke-width="3.5" stroke-linecap="round" filter="url(#b1)" opacity="0.9"/>
<path d="M450.0,338.0 C453.3,337.5 461.7,335.7 470.0,335.0 C478.3,334.3 490.0,333.5 500.0,334.0 C510.0,334.5 525.0,337.3 530.0,338.0" fill="none" stroke="#ffffff" stroke-width="6" stroke-linecap="round" filter="url(#b1)" opacity="0.9"/>
</g>
<path d="M395.8,350.2 L446.3,338.2 L451.7,360.8 L401.2,372.8 A4.1,11.6 -13.4 0 1 395.8,350.2 Z" fill="url(#g19)" />
<ellipse cx="398.5" cy="361.5" rx="4.1" ry="11.6" transform="rotate(-13.4 398.5 361.5)" fill="#d98f28" />
<path d="M364.6,359.2 L397.6,353.5 L400.4,370.1 L367.4,375.8 A3.8,8.4 -9.8 0 1 364.6,359.2 Z" fill="url(#g20)" />
<path d="M364.6,359.2 L397.6,353.5 L400.4,370.1 L367.4,375.8 A3.8,8.4 -9.8 0 1 364.6,359.2 Z" fill="url(#strand)" opacity="0.45" transform=""/>
<ellipse cx="366.0" cy="367.5" rx="3.8" ry="8.4" transform="rotate(-9.8 366.0 367.5)" fill="#dba783" stroke="#9c6748" stroke-width="1.2"/>
<path d="M433.4,362.9 L455.4,359.2 L459.6,381.8 L437.6,386.1 A4.1,11.8 -10.3 0 1 433.4,362.9 Z" fill="url(#g21)" />
<ellipse cx="435.5" cy="374.5" rx="4.1" ry="11.8" transform="rotate(-10.3 435.5 374.5)" fill="#dcdcdc" />
<path d="M403.9,372.9 L435.6,367.1 L438.4,382.9 L406.7,388.7 A3.6,8.0 -10.4 0 1 403.9,372.9 Z" fill="url(#g22)" />
<path d="M403.9,372.9 L435.6,367.1 L438.4,382.9 L406.7,388.7 A3.6,8.0 -10.4 0 1 403.9,372.9 Z" fill="url(#strand)" opacity="0.45" transform=""/>
<ellipse cx="405.3" cy="380.8" rx="3.6" ry="8.0" transform="rotate(-10.4 405.3 380.8)" fill="#dba783" stroke="#9c6748" stroke-width="1.2"/>
<path d="M285.6,395.8 L339.8,384.3 L344.2,403.3 L290.4,416.8 A3.8,10.8 -13.0 0 1 285.6,395.8 Z" fill="url(#g23)" />
<ellipse cx="288.0" cy="406.3" rx="3.8" ry="10.8" transform="rotate(-13.0 288.0 406.3)" fill="#b9b5b1" />
<path d="M258.7,404.8 L288.7,399.5 L291.3,414.5 L261.3,419.8 A3.4,7.6 -10.0 0 1 258.7,404.8 Z" fill="url(#g24)" />
<path d="M258.7,404.8 L288.7,399.5 L291.3,414.5 L261.3,419.8 A3.4,7.6 -10.0 0 1 258.7,404.8 Z" fill="url(#strand)" opacity="0.45" transform=""/>
<ellipse cx="260.0" cy="412.3" rx="3.4" ry="7.6" transform="rotate(-10.0 260.0 412.3)" fill="#dba783" stroke="#9c6748" stroke-width="1.2"/>
<path d="M328.6,396.0 L352.2,392.8 L355.8,417.2 L332.4,421.0 A4.4,12.6 -8.5 0 1 328.6,396.0 Z" fill="url(#g25)" />
<ellipse cx="330.5" cy="408.5" rx="4.4" ry="12.6" transform="rotate(-8.5 330.5 408.5)" fill="#2f942c" />
<path d="M299.7,407.0 L329.4,400.9 L332.6,416.5 L302.9,422.6 A3.6,8.0 -11.6 0 1 299.7,407.0 Z" fill="url(#g26)" />
<path d="M299.7,407.0 L329.4,400.9 L332.6,416.5 L302.9,422.6 A3.6,8.0 -11.6 0 1 299.7,407.0 Z" fill="url(#strand)" opacity="0.45" transform=""/>
<ellipse cx="301.3" cy="414.8" rx="3.6" ry="8.0" transform="rotate(-11.6 301.3 414.8)" fill="#dba783" stroke="#9c6748" stroke-width="1.2"/></svg>
<div class="l" style="left:211px;top:402.5px;height:22.5px;"></div>
<div class="l" style="left:307.8px;top:422.5px;height:37px;"></div>
<div class="l" style="left:486.3px;top:392.5px;height:60.5px;"></div>
<div class="l" style="left:701.6px;top:368px;height:34px;"></div>
<div class="t" id="t1" style="left:49px;top:100px;">Double anti-jamming</div>
<div class="t" id="t2" style="left:126px;top:422px;">Ground wire</div>
<div class="t" id="t3" style="left:196px;top:456px;">Tinned copper wire</div>
<div class="t" id="t4" style="left:455px;top:450px;">Double foil</div>
<div class="t" id="t5" style="left:687px;top:405px;">PVC</div>
</body></html>
